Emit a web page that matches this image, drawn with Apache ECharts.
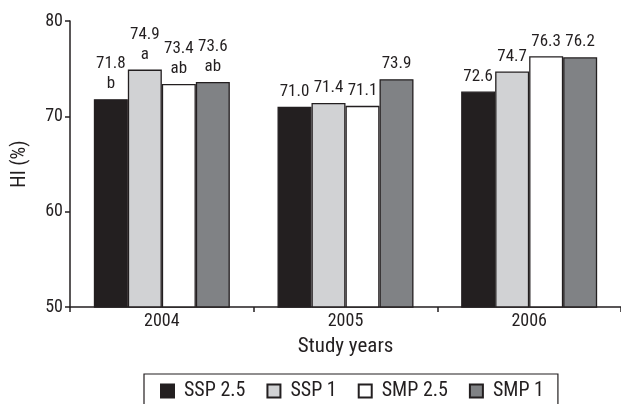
<!DOCTYPE html>
<html><head><meta charset="utf-8">
<script src="https://cdn.jsdelivr.net/npm/echarts@6/dist/echarts.min.js"></script>
<style>html,body{margin:0;padding:0;background:#fff}#c{width:621px;height:404px}</style>
</head><body><div id="c"></div>
<script>
var years = ['2004', '2005', '2006'];
var seriesNames = ['SSP 2.5', 'SSP 1', 'SMP 2.5', 'SMP 1'];
var ssp25 = [71.8, 71.0, 72.6];
var ssp1 = [74.9, 71.4, 74.7];
var smp25 = [73.4, 71.1, 76.3];
var smp1 = [73.6, 73.9, 76.2];
var ssp25Letters = ['b', '', ''];
var ssp1Letters = ['a', '', ''];
var smp25Letters = ['ab', '', ''];
var smp1Letters = ['ab', '', ''];
var yTicks = [50, 60, 70, 80];

var FONT = "'Liberation Sans Narrow','Arial Narrow','Roboto Condensed',sans-serif";
var colors = ['#231f20', '#d1d2d4', '#ffffff', '#808285'];
var values = [ssp25, ssp1, smp25, smp1];
var letters = [ssp25Letters, ssp1Letters, smp25Letters, smp1Letters];

var chart = echarts.init(document.getElementById('c'));
chart.setOption({
  animation: false,
  backgroundColor: '#fff',
  grid: { left: 70, top: 21, width: 561, bottom: 97, containLabel: false },
  xAxis: {
    type: 'category', data: years,
    name: 'Study years', nameLocation: 'middle', nameGap: 29,
    nameTextStyle: { fontFamily: FONT, fontSize: 21, color: '#231f20' },
    axisLine: { lineStyle: { color: '#231f20', width: 1.5 } },
    axisTick: { show: true, length: 5, lineStyle: { color: '#231f20', width: 1.5 } },
    axisLabel: { fontFamily: FONT, fontSize: 18, color: '#231f20', margin: 5 }
  },
  yAxis: {
    type: 'value', min: yTicks[0], max: yTicks[yTicks.length - 1], interval: 10,
    name: 'HI (%)', nameLocation: 'middle', nameGap: 40,
    nameTextStyle: { fontFamily: FONT, fontSize: 20, color: '#231f20' },
    axisLine: { show: true, lineStyle: { color: '#231f20', width: 1.5 } },
    axisTick: { show: true, length: 5, lineStyle: { color: '#231f20', width: 1.5 } },
    axisLabel: { fontFamily: FONT, fontSize: 18, color: '#231f20', margin: 7 },
    splitLine: { show: false }
  },
  legend: {
    left: 144, top: 374,
    padding: [7, 14, 12, 16],
    borderColor: '#231f20', borderWidth: 1.2,
    itemWidth: 13, itemHeight: 13, itemGap: 21,
    icon: 'rect',
    textStyle: { fontFamily: FONT, fontSize: 20, color: '#231f20', padding: [0, 0, 0, 5] },
    data: seriesNames
  },
  series: seriesNames.map(function (n, i) {
    return {
      name: n, type: 'bar', barWidth: 34, barGap: '0%',
      data: values[i],
      itemStyle: { color: colors[i], borderColor: '#231f20', borderWidth: 1.3 },
      label: {
        show: true, position: 'top', distance: 5,
        fontFamily: FONT, fontSize: 17, color: '#231f20', lineHeight: 20,
        formatter: function (p) {
          var l = letters[i][p.dataIndex];
          return p.value.toFixed(1) + (l ? '\n' + l : '');
        }
      }
    };
  })
});
</script></body></html>
